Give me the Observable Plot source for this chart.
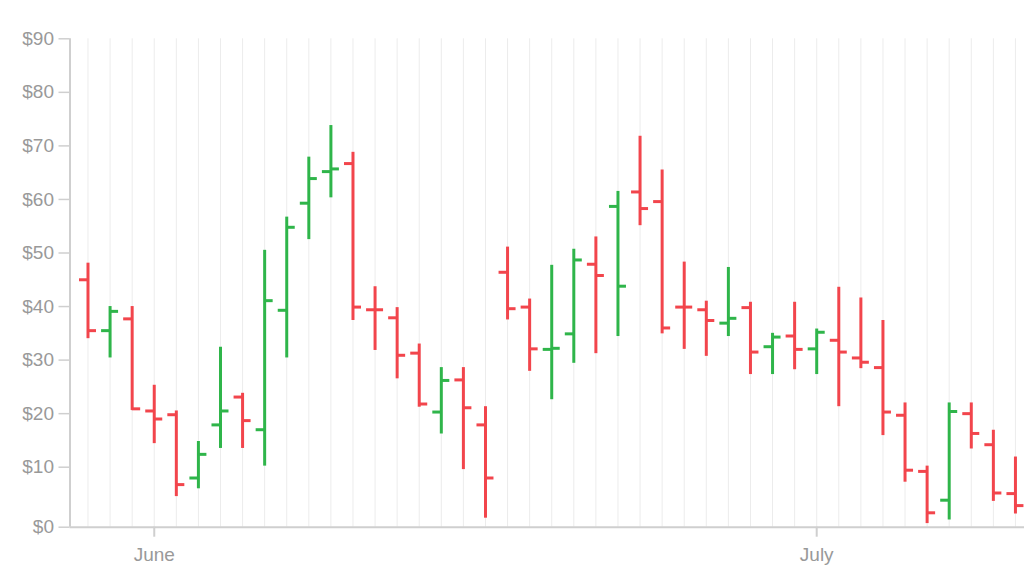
<!DOCTYPE html>
<html>
<head>
<meta charset="utf-8">
<script src="https://cdn.jsdelivr.net/npm/d3@7"></script>
<script src="https://cdn.jsdelivr.net/npm/@observablehq/plot@0.6"></script>
<style>
  html, body { margin: 0; padding: 0; background: #fff; }
  #chart { width: 1024px; height: 580px; }
</style>
</head>
<body>
<div id="chart"></div>
<script>
// ---- data ----
const dates = [
  "2017-05-29","2017-05-30","2017-05-31",
  "2017-06-01","2017-06-02","2017-06-03","2017-06-04","2017-06-05","2017-06-06","2017-06-07",
  "2017-06-08","2017-06-09","2017-06-10","2017-06-11","2017-06-12","2017-06-13","2017-06-14",
  "2017-06-15","2017-06-16","2017-06-17","2017-06-18","2017-06-19","2017-06-20","2017-06-21",
  "2017-06-22","2017-06-23","2017-06-24","2017-06-25","2017-06-26","2017-06-27","2017-06-28",
  "2017-06-29","2017-06-30",
  "2017-07-01","2017-07-02","2017-07-03","2017-07-04","2017-07-05","2017-07-06","2017-07-07",
  "2017-07-08","2017-07-09","2017-07-10"
];
const open = [45.0,35.5,37.7,20.5,19.8,8.2,17.9,23.1,17.0,39.3,59.3,65.2,66.7,39.4,37.9,31.3,20.3,26.3,17.9,46.4,39.9,32.0,34.9,47.9,58.7,61.4,59.6,39.9,39.4,36.9,39.8,32.5,34.5,32.1,33.7,30.4,28.6,19.7,9.3,4.5,20.0,14.2,5.6];
const high = [48.1,40.0,40.0,25.3,20.5,14.8,32.4,23.8,50.5,56.7,67.9,73.8,68.8,43.7,39.8,33.0,28.6,28.6,21.3,51.1,41.4,47.7,50.7,53.0,61.5,71.8,65.5,48.3,41.0,47.3,40.8,35.0,40.8,35.8,43.6,41.6,37.4,22.0,10.2,22.0,22.0,16.9,11.9];
const low  = [34.0,30.4,20.6,14.4,5.1,6.4,13.5,13.5,10.2,30.4,52.5,60.3,37.4,31.8,26.5,21.2,16.2,9.6,1.5,37.5,27.9,22.6,29.4,31.2,34.4,55.1,34.9,32.0,30.7,34.4,27.3,27.3,28.2,27.3,21.3,28.4,15.9,7.5,0.6,1.2,13.4,4.3,2.2];
const close = [35.5,39.1,20.9,19.0,7.1,12.4,20.5,18.7,41.1,54.8,63.9,65.7,39.9,39.4,30.9,21.8,26.2,21.1,8.2,39.6,32.1,32.2,48.7,45.8,43.8,58.3,36.0,39.9,37.4,37.8,31.5,34.3,32.0,35.2,31.5,29.6,20.3,9.5,2.4,20.4,16.3,5.7,3.6];
const trend = ["down","up","down","down","down","up","up","down","up","up","up","up","down","down","down","down","up","down","down","down","down","up","up","down","up","down","down","down","down","up","down","up","down","up","down","down","down","down","down","up","down","down","down"];
const yTicks = [0,10,20,30,40,50,60,70,80,90];
const monthTicks = ["2017-06-01","2017-07-01"];

// ---- table for Plot ----
const data = dates.map((d, i) => ({
  date: new Date(d), open: open[i], high: high[i], low: low[i], close: close[i], trend: trend[i]
}));

const DAY = 864e5;
const first = new Date(dates[0]), last = new Date(dates[dates.length - 1]);
const xDomain = [new Date(+first - 0.815 * DAY), new Date(+last + 0.41 * DAY)];
const tickLen = 0.385 * DAY;
const colors = {up: "#2fb54a", down: "#f2454c"};

const chart = Plot.plot({
  width: 1024,
  height: 580,
  marginLeft: 69.5,
  marginRight: 0,
  marginTop: 38.3,
  marginBottom: 53.3,
  style: {fontSize: "19px", fontFamily: "'Liberation Sans', Arial, sans-serif", color: "#999999", background: "#fff"},
  x: {type: "utc", domain: xDomain},
  y: {type: "linear", domain: [0, 10, 90], range: [526.7, 466.7, 38.3]},
  color: {domain: ["up", "down"], range: [colors.up, colors.down]},
  marks: [
    Plot.ruleX(data, {x: "date", stroke: "#ececec", strokeWidth: 1}),
    Plot.ruleX([xDomain[0]], {stroke: "#cfcfcf", strokeWidth: 2}),
    Plot.ruleY([0], {stroke: "#cfcfcf", strokeWidth: 2}),
    Plot.axisY({ticks: yTicks, tickFormat: d => "$" + d, tickSize: 11, tickPadding: 5, stroke: "#cfcfcf", strokeWidth: 1.5, label: null}),
    Plot.axisX({ticks: monthTicks.map(d => new Date(d)), tickFormat: d3.utcFormat("%B"), tickSize: 10, tickPadding: 10, stroke: "#cfcfcf", strokeWidth: 2, label: null}),
    Plot.ruleX(data, {x: "date", y1: "low", y2: "high", stroke: "trend", strokeWidth: 3}),
    Plot.ruleY(data, {y: "open", x1: d => new Date(+d.date - tickLen), x2: "date", stroke: "trend", strokeWidth: 3}),
    Plot.ruleY(data, {y: "close", x1: "date", x2: d => new Date(+d.date + tickLen), stroke: "trend", strokeWidth: 3})
  ]
});
document.getElementById("chart").appendChild(chart);
</script>
</body>
</html>
